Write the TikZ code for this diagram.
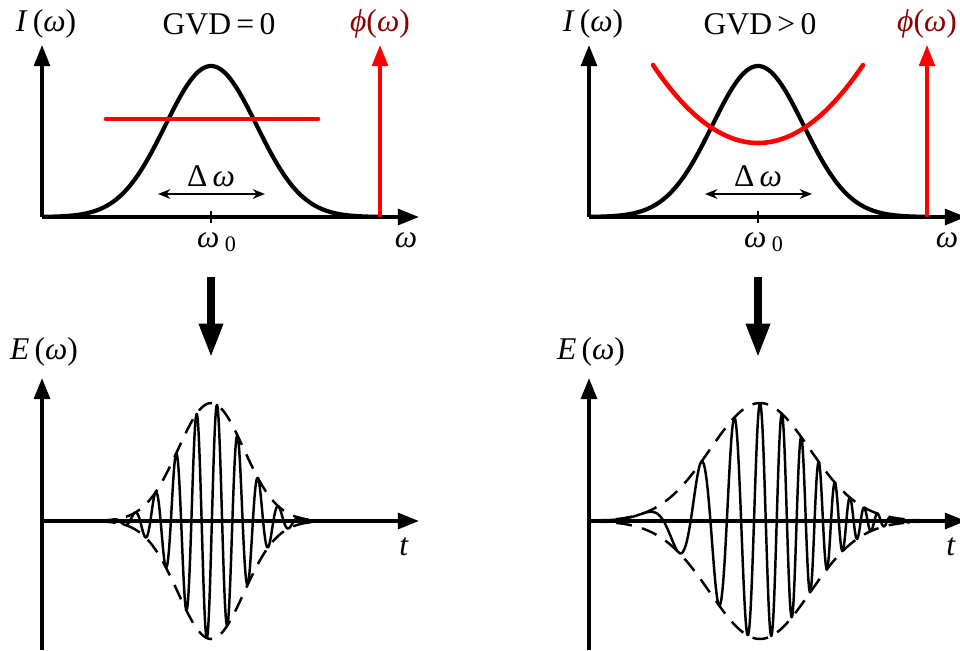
\documentclass[tikz,border=0pt]{standalone}
\usepackage{fontspec}
\setmainfont{Liberation Serif}
\usetikzlibrary{arrows.meta}
\definecolor{phaselabel}{RGB}{140,0,0}
\tikzset{
  axis/.style={line width=2pt,-{Triangle[length=12pt,width=9pt]}},
  spectrum/.style={line width=2.4pt,line join=round},
  phase/.style={red,line width=2.6pt,line cap=round},
  pulse/.style={line width=1.4pt,line join=round},
  envelope/.style={line width=1.4pt,dash pattern=on 9pt off 6pt},
  bigarrow/.style={line width=4pt,-{Triangle[length=19pt,width=13pt]}},
  spread/.style={line width=1.1pt,{Stealth[length=7pt,width=5.5pt]}-{Stealth[length=7pt,width=5.5pt]}},
}
\begin{document}
\begin{tikzpicture}[x=0.02cm,y=-0.02cm,font=\fontsize{18}{21}\selectfont]
  \useasboundingbox (0,0) rectangle (960,650);
  % spectrum, GVD = 0
  \coordinate (oA) at (42,217);
  \coordinate (iA) at (42,45);
  \coordinate (wA) at (419,217);
  \coordinate (phA) at (380,217);
  \coordinate (phtipA) at (380,45);
  \draw[axis] (oA) -- (iA);
  \draw[axis] (oA) -- (wA);
  \draw[spectrum] plot[domain=42:380,samples=120,smooth] (\x,{217-151*exp(-((\x-211)/64.63)*((\x-211)/64.63))});
  \draw[phase] (106,119) -- (318,119);
  \draw[axis,red,line width=1.8pt] (phA) -- (phtipA);
  \draw[line width=1.4pt] (211,211) -- (211,223);
  \coordinate (dlA) at (158,194);
  \coordinate (drA) at (265,194);
  \draw[spread] (dlA) -- (drA);
  \node (IlabA) at (46,24) {\textit{I}\,(\textit{ω})};
  \node (gvdA) at (219,24) {GVD\,=\,0};
  \node[phaselabel] (philabA) at (380,24) {\textit{ϕ}(\textit{ω})};
  \node (dwA) at (211,176) {Δ\,\textit{ω}};
  \node (w0A) at (217,242) {\textit{ω}\,\textsubscript{0}};
  \node (wlabA) at (406,240) {\textit{ω}};
  % spectrum, GVD > 0
  \coordinate (oB) at (589,217);
  \coordinate (iB) at (589,45);
  \coordinate (wB) at (966,217);
  \coordinate (phB) at (927,217);
  \coordinate (phtipB) at (927,45);
  \draw[axis] (oB) -- (iB);
  \draw[axis] (oB) -- (wB);
  \draw[spectrum] plot[domain=589:927,samples=120,smooth] (\x,{217-151*exp(-((\x-758)/64.63)*((\x-758)/64.63))});
  \draw[phase] plot[domain=653:863,samples=60,smooth] (\x,{143-78*((\x-758)/105)*((\x-758)/105)});
  \draw[axis,red,line width=1.8pt] (phB) -- (phtipB);
  \draw[line width=1.4pt] (758,211) -- (758,223);
  \coordinate (dlB) at (705,194);
  \coordinate (drB) at (812,194);
  \draw[spread] (dlB) -- (drB);
  \node (IlabB) at (593,24) {\textit{I}\,(\textit{ω})};
  \node (gvdB) at (760,24) {GVD\,>\,0};
  \node[phaselabel] (philabB) at (927,24) {\textit{ϕ}(\textit{ω})};
  \node (dwB) at (758,176) {Δ\,\textit{ω}};
  \node (w0B) at (764,242) {\textit{ω}\,\textsubscript{0}};
  \node (wlabB) at (947,240) {\textit{ω}};
  % Fourier transform arrows
  \coordinate (ftA) at (211,277);
  \coordinate (fttipA) at (211,357);
  \coordinate (ftB) at (758,277);
  \coordinate (fttipB) at (758,357);
  \draw[bigarrow] (ftA) -- (fttipA);
  \draw[bigarrow] (ftB) -- (fttipB);
  % pulse in time, GVD = 0
  \coordinate (eA) at (42,650);
  \coordinate (etipA) at (42,378);
  \coordinate (tA0) at (42,521);
  \coordinate (tA) at (419,521);
  \draw[axis] (eA) -- (etipA);
  \draw[axis] (tA0) -- (tA);
  \draw[envelope] plot[domain=100:330,samples=80,smooth] (\x,{521-118*exp(-((\x-211)/46.67)*((\x-211)/46.67))});
  \draw[envelope] plot[domain=100:330,samples=80,smooth] (\x,{521+118*exp(-((\x-211)/46.67)*((\x-211)/46.67))});
  \draw[pulse] plot[domain=100:330,samples=300,smooth] (\x,{521-118*exp(-((\x-211)/46.67)*((\x-211)/46.67))*cos(17.561*(\x-217))});
  \node (ElabA) at (44,352) {\textit{E}\,(\textit{ω})};
  \node (tlabA) at (404,547) {\textit{t}};
  % pulse in time, GVD > 0 (chirped)
  \coordinate (eB) at (589,650);
  \coordinate (etipB) at (589,378);
  \coordinate (tB0) at (589,521);
  \coordinate (tB) at (966,521);
  \draw[axis] (eB) -- (etipB);
  \draw[axis] (tB0) -- (tB);
  \draw[envelope] plot[domain=590:930,samples=100,smooth] (\x,{521-118*exp(-((\x-760)/70.71)*((\x-760)/70.71))});
  \draw[envelope] plot[domain=590:930,samples=100,smooth] (\x,{521+118*exp(-((\x-760)/70.71)*((\x-760)/70.71))});
  \draw[pulse] plot[domain=590:930,samples=420,smooth] (\x,{521-118*exp(-((\x-760)/70.71)*((\x-760)/70.71))*cos(360*(0.0425*(\x-760)+((\x-760)/83.05)*((\x-760)/83.05)))});
  \node (ElabB) at (591,352) {\textit{E}\,(\textit{ω})};
  \node (tlabB) at (951,547) {\textit{t}};
\end{tikzpicture}
\end{document}
